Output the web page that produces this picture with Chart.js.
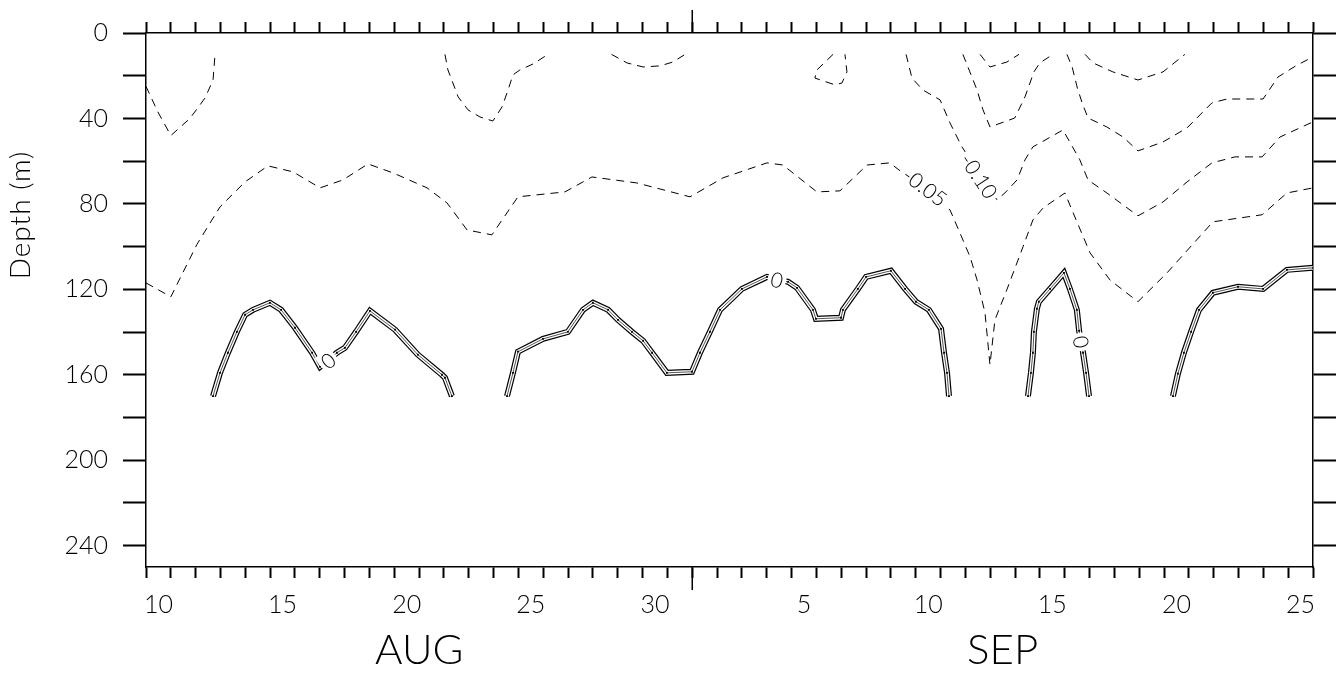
<!DOCTYPE html>
<html lang="en">
<head>
<meta charset="UTF-8">
<title>Depth section Aug-Sep</title>
<script src="https://cdn.jsdelivr.net/npm/chart.js@4.4.0/dist/chart.umd.min.js"></script>
<style>
  html, body { margin: 0; padding: 0; background: #fff; }
  #wrap { width: 1343px; height: 675px; }
</style>
</head>
<body>
<div id="wrap"><canvas id="chart" width="1343" height="675"></canvas></div>
<script>
// x = day counted from 1 Aug (1 Sep = 32), y = depth (m)
const dayMin = 10, dayMax = 57;
const monthBreak = 32;
const monthNames = ['AUG', 'SEP'];
const monthCentres = [21, 44.5];
const labelledDays = [10, 15, 20, 25, 30, 36, 41, 46, 51, 56];
const depthTicks = [0, 40, 80, 120, 160, 200, 240];

// dashed (negative) contours
const negA = [[10.0,25],[10.48,37],[11.0,48],[11.77,40],[12.38,30.4],[12.7,22],[12.78,10]];
const negB = [[10.0,117],[11.0,123.5],[12.05,99],[12.98,81.4],[13.99,69.7],[14.91,62.2],[15.92,65],[17.01,72.5],[17.93,68.8],[18.94,61.3],[19.95,65.5],[21.32,72.5],[22.12,79.5],[22.93,92.2],[23.93,94.5],[24.98,76.7],[26.87,74.4],[27.96,67.4],[29.77,70.2],[31.91,76.7],[33.24,67.8],[35.01,60.8],[35.65,61.8],[37.02,74.4],[37.95,73.9],[39.04,61.8],[39.96,60.8],[42.38,82.8],[42.78,93.6],[43.19,104.8],[43.47,115.6],[43.79,131],[43.99,155.3],[44.19,134.3],[44.67,120.2],[45.32,100.1],[45.72,87.5],[46.13,81.9],[47.01,74.9],[47.34,84.2],[48.02,102.9],[48.82,115.6],[49.95,125.8],[51.12,112.3],[52.97,88.4],[54.95,85.1],[55.95,74.9],[57.0,72.5]];
const negC = [[40.61,10],[40.85,21.1],[41.29,26.7],[41.98,31.3],[42.38,42.1],[42.86,53.3],[44.27,78.1],[44.59,74.9],[45.08,68.8],[45.4,59.4],[45.72,53.3],[46.0,51.5],[46.93,45.4],[47.61,59.4],[47.94,68.8],[48.7,74.9],[49.95,85.6],[50.96,79.1],[51.93,69.7],[52.93,60.8],[53.86,58],[54.95,58],[55.67,48.7],[57.0,41.6]];
const negD = [[42.9,10],[43.18,18.2],[43.47,26.7],[43.71,36],[43.99,44],[44.99,39.8],[45.4,29.9],[45.76,18.2],[46.0,14],[46.53,10]];
const negE = [[43.59,10],[43.99,15.9],[44.67,13.6],[45.16,10]];
const negF = [[47.09,10],[47.3,15.9],[47.5,25.3],[47.7,32.7],[47.94,39.8],[48.7,44],[49.35,48.7],[49.95,55.2],[50.96,51],[51.93,44.4],[52.93,32.7],[53.54,30.9],[54.99,30.9],[55.59,20.6],[56.36,15],[57.0,11.2]];
const negG = [[47.82,10],[48.14,14],[48.94,18.2],[49.95,22],[50.96,18.2],[51.84,10]];
const negH = [[22.04,10],[22.16,17.3],[22.36,23.4],[22.57,29.9],[22.97,36],[23.45,39.3],[23.97,41.2],[24.34,34.6],[24.58,26.7],[24.78,19.6],[25.06,17.3],[25.59,14.5],[26.19,10]];
const negI = [[28.75,10],[29.37,14],[30.02,15.9],[30.7,15.4],[31.22,13.6],[31.71,10]];
const negJ = [[37.67,10],[37.02,17.3],[36.94,21.1],[37.75,24.3],[38.03,23.4],[38.23,18.2],[38.15,10]];

// zero contours
const zero1 = [[12.7,170],[12.98,159.1],[13.3,149.7],[13.66,139.9],[13.99,131.9],[14.31,129.6],[14.99,126.3],[15.44,129.6],[16.0,138],[16.69,149.7],[17.01,156.3],[17.69,149.7],[18.01,147.4],[18.46,139.9],[19.02,130.1],[20.03,138.9],[20.95,150.6],[21.92,160],[22.04,161.4],[22.32,170]];
const zero2 = [[24.54,170],[24.78,159.1],[24.98,149.2],[25.99,143.2],[26.99,139.9],[27.6,129.6],[28.0,126.3],[28.61,129.6],[29.01,134.3],[29.57,139.9],[30.02,144.1],[30.38,149.7],[30.98,159.1],[31.99,158.6],[32.31,149.7],[32.71,139.9],[33.12,129.6],[34.0,119.8],[35.01,114.2],[35.86,116.5],[36.22,119.3],[36.86,129.6],[36.98,133.8],[37.99,133.3],[38.07,129.6],[38.67,119.8],[39.0,114.2],[40.0,111.3],[40.57,119.8],[41.01,125.8],[41.53,129.6],[42.02,138.5],[42.14,149.7],[42.26,159.1],[42.34,170]];
const zero3 = [[45.52,170],[45.64,159.1],[45.72,149.7],[45.76,139.9],[45.88,129.1],[45.96,125.8],[46.41,119.8],[46.97,112.3],[47.21,119.8],[47.49,129.6],[47.58,139.4],[47.74,149.7],[47.86,159.1],[47.98,170]];
const zero4 = [[51.36,170],[51.56,159.5],[51.8,149.7],[52.09,139.9],[52.41,129.6],[52.97,121.6],[53.98,118.8],[54.99,119.8],[55.95,110.9],[57.0,109.9]];

// contour labels
const labelTexts  = ['-0.05', '-0.10', '0', '0', '0'];
const labelDays   = [41.37, 43.55, 17.33, 35.41, 47.66];
const labelDepths = [72.0, 66.9, 153.4, 115.6, 144.6];
const labelAngles = [37, 56, -39, 13, 80];

const FONT = 'Lato, "DejaVu Sans", sans-serif';
const toPts = a => a.map(p => ({ x: p[0], y: p[1] }));

const datasets = [];
[negA, negB, negC, negD, negE, negF, negG, negH, negI, negJ].forEach(a => {
    datasets.push({ data: toPts(a), showLine: true, borderColor: '#000', borderWidth: 1,
        borderDash: [8, 6], pointRadius: 0, fill: false, order: 5 });
});
[zero1, zero2, zero3, zero4].forEach(a => {
    // triple line: black band, white core, thin centre
    datasets.push({ data: toPts(a), showLine: true, borderColor: '#000', borderWidth: 6,
        pointRadius: 0, fill: false, order: 3, borderJoinStyle: 'miter' });
    datasets.push({ data: toPts(a), showLine: true, borderColor: '#fff', borderWidth: 3.6,
        pointRadius: 0, fill: false, order: 2 });
    datasets.push({ data: toPts(a), showLine: true, borderColor: '#555', borderWidth: 1,
        pointRadius: 1.3, pointStyle: 'rect', pointBackgroundColor: '#000', pointBorderWidth: 0,
        fill: false, order: 1 });
});

const halfDay = (1313 - 146) / (dayMax - dayMin) / 2;

const decorPlugin = {
    id: 'decor',
    afterDatasetsDraw(chart) {
        const ctx = chart.ctx, xs = chart.scales.x, ys = chart.scales.y;
        ctx.save();
        ctx.font = '300 21px ' + FONT;
        ctx.textAlign = 'center';
        ctx.textBaseline = 'middle';
        labelTexts.forEach((t, i) => {
            const px = xs.getPixelForValue(labelDays[i]);
            const py = ys.getPixelForValue(labelDepths[i]);
            ctx.save();
            ctx.translate(px, py);
            ctx.rotate(labelAngles[i] * Math.PI / 180);
            const w = ctx.measureText(t).width + 6;
            ctx.fillStyle = '#fff';
            ctx.fillRect(-w / 2, -10, w, 20);
            ctx.fillStyle = '#000';
            ctx.fillText(t, 0, 1);
            ctx.restore();
        });
        ctx.restore();
    },
    afterDraw(chart) {
        const ctx = chart.ctx, xs = chart.scales.x, area = chart.chartArea;
        ctx.save();
        // long ticks at the month change
        const mx = xs.getPixelForValue(monthBreak);
        ctx.strokeStyle = '#000';
        ctx.lineWidth = 1.5;
        ctx.beginPath();
        ctx.moveTo(mx, area.top - 23); ctx.lineTo(mx, area.top);
        ctx.moveTo(mx, area.bottom); ctx.lineTo(mx, area.bottom + 23);
        ctx.stroke();
        // month names
        ctx.fillStyle = '#000';
        ctx.font = '300 42px ' + FONT;
        ctx.textAlign = 'center';
        ctx.textBaseline = 'middle';
        monthNames.forEach((m, i) => ctx.fillText(m, xs.getPixelForValue(monthCentres[i]), 650));
        // axis title
        ctx.font = '300 28px ' + FONT;
        ctx.letterSpacing = '1px';
        ctx.translate(21, 215);
        ctx.rotate(-Math.PI / 2);
        ctx.fillText('Depth (m)', 0, 0);
        ctx.restore();
    }
};

const tickFont = { family: FONT, size: 25, weight: '300' };
const gridOpts = len => ({ drawOnChartArea: false, tickLength: len, tickWidth: 2, tickColor: '#000' });
const borderOpts = { display: true, color: '#000', width: 1.5 };

new Chart(document.getElementById('chart'), {
    type: 'scatter',
    data: { datasets },
    options: {
        responsive: false,
        animation: false,
        layout: { padding: 0 },
        plugins: { legend: { display: false }, tooltip: { enabled: false } },
        scales: {
            x: {
                type: 'linear', position: 'bottom', min: dayMin, max: dayMax,
                grid: gridOpts(11), border: borderOpts,
                ticks: {
                    stepSize: 1, autoSkip: false, maxRotation: 0, includeBounds: false,
                    maxTicksLimit: 100, labelOffset: halfDay, padding: 12,
                    color: '#000', font: tickFont,
                    callback: v => labelledDays.includes(v) ? String(v < monthBreak ? v : v - monthBreak + 1) : ''
                },
                afterFit: s => { s.height = 108; }
            },
            x2: {
                type: 'linear', position: 'top', min: dayMin, max: dayMax,
                grid: gridOpts(11), border: borderOpts,
                ticks: { stepSize: 1, autoSkip: false, maxTicksLimit: 100, includeBounds: false, callback: () => '' },
                afterFit: s => { s.height = 33; }
            },
            y: {
                type: 'linear', position: 'left', reverse: true, min: 0, max: 250,
                grid: gridOpts(23), border: borderOpts,
                ticks: {
                    stepSize: 20, includeBounds: false, autoSkip: false, padding: 15,
                    color: '#000', font: tickFont,
                    callback: v => depthTicks.includes(v) ? String(v) : ''
                },
                afterFit: s => { s.width = 146; }
            },
            y2: {
                type: 'linear', position: 'right', reverse: true, min: 0, max: 250,
                grid: gridOpts(23), border: borderOpts,
                ticks: { stepSize: 20, includeBounds: false, autoSkip: false, callback: () => '' },
                afterFit: s => { s.width = 30; }
            }
        }
    },
    plugins: [decorPlugin]
});
</script>
</body>
</html>
